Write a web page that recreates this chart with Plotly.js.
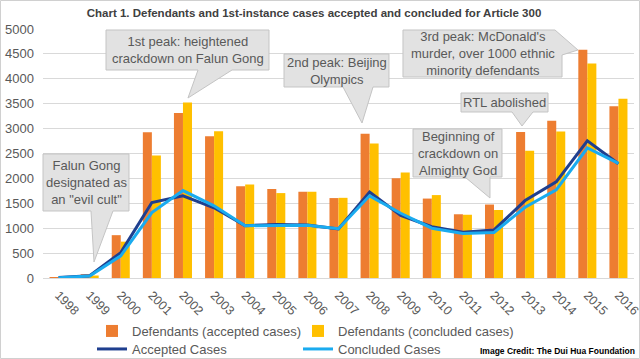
<!DOCTYPE html>
<html>
<head>
<meta charset="utf-8">
<script src="https://cdn.plot.ly/plotly-3.0.1.min.js"></script>
<style>html,body{margin:0;padding:0;background:#fff;}#chart{width:640px;height:359px;}</style>
</head>
<body>
<div id="chart"></div>
<script>
// ---- Data ----
var years = ["1998","1999","2000","2001","2002","2003","2004","2005","2006","2007","2008","2009","2010","2011","2012","2013","2014","2015","2016"];
var defendantsAccepted  = [20, 75, 860, 2925, 3315, 2845, 1840, 1785, 1730, 1605, 2895, 2005, 1595, 1280, 1475, 2930, 3160, 4585, 3450];
var defendantsConcluded = [5, 50, 730, 2460, 3525, 2945, 1875, 1705, 1730, 1610, 2700, 2120, 1665, 1270, 1365, 2555, 2940, 4305, 3600];
var acceptedCases       = [10, 45, 510, 1515, 1650, 1410, 1050, 1075, 1065, 985, 1725, 1255, 1030, 920, 965, 1555, 1930, 2755, 2295];
var concludedCases      = [5, 40, 445, 1315, 1755, 1450, 1050, 1060, 1060, 990, 1650, 1300, 1000, 895, 915, 1420, 1770, 2610, 2300];
var yTicks = [0,500,1000,1500,2000,2500,3000,3500,4000,4500,5000];

var titleText = "Chart 1. Defendants and 1st-instance cases accepted and concluded for Article 300";
var seriesNames = ["Defendants (accepted cases)", "Defendants (concluded cases)", "Accepted Cases", "Concluded Cases"];
var calloutTexts = [
  "Falun Gong<br>designated as<br>an \"evil cult\"",
  "1st peak: heightened<br>crackdown on Falun Gong",
  "2nd peak: Beijing<br>Olympics",
  "3rd peak: McDonald's<br>murder, over 1000 ethnic<br>minority defendants",
  "RTL abolished",
  "Beginning of<br>crackdown on<br>Almighty God"
];
var creditText = "Image Credit: The Dui Hua Foundation";

// ---- Layout helpers (pixel -> paper / container) ----
var W = 640, H = 359, ML = 43, MR = 6, MT = 29, MB = 81;
function px(x){ return (x - ML) / (W - ML - MR); }
function py(y){ return (H - MB - y) / (H - MT - MB); }
function cx(x){ return x / W; }
function cy(y){ return 1 - y / H; }
function path(pts){
  return pts.map(function(p,i){ return (i ? "L" : "M") + px(p[0]).toFixed(4) + "," + py(p[1]).toFixed(4); }).join(" ") + " Z";
}

// callout outlines in pixels (box + pointer)
var callouts = [
  {pts: [[43,154],[129,154],[129,211],[113,211],[94,262],[91,211],[43,211]], cx: 86, cy: 183},
  {pts: [[106,30],[269,30],[269,70],[232,70],[188,98],[198,70],[106,70]], cx: 187.5, cy: 50},
  {pts: [[284,54],[389,54],[389,87],[373,87],[362,123],[343,87],[284,87]], cx: 336.5, cy: 70.5},
  {pts: [[403,30],[555,30],[578,50],[562,55],[562,77],[403,77]], cx: 482.5, cy: 53.5},
  {pts: [[461,93],[548,93],[548,112],[533,112],[522,126],[512,112],[461,112]], cx: 504.5, cy: 102.5},
  {pts: [[413,129],[502,129],[502,177],[490,177],[490,198],[465,177],[413,177]], cx: 457.5, cy: 153}
];

var shapes = [{
  type: "rect", xref: "paper", yref: "paper",
  x0: px(0.5), x1: px(639.5), y0: py(358.5), y1: py(0.5),
  line: {color: "#d0d0d0", width: 1}, fillcolor: "rgba(0,0,0,0)", layer: "below"
}];
var annotations = [];
callouts.forEach(function(c, i){
  shapes.push({type: "path", xref: "paper", yref: "paper", path: path(c.pts),
    fillcolor: "#E2E2E2", line: {color: "#C4C4C4", width: 1}, layer: "above"});
  annotations.push({xref: "paper", yref: "paper", x: px(c.cx), y: py(c.cy),
    xanchor: "center", yanchor: "middle", showarrow: false, text: calloutTexts[i],
    font: {family: "Liberation Sans, Arial, sans-serif", size: 13, color: "#595959"}, align: "center"});
});
annotations.push({xref: "paper", yref: "paper", x: px(637), y: py(351), xanchor: "right", yanchor: "middle",
  showarrow: false, text: "<b>" + creditText + "</b>",
  font: {family: "Liberation Sans, Arial, sans-serif", size: 8.5, color: "#000"}});

var font = "Liberation Sans, Arial, sans-serif";
var traces = [
  {type: "bar", x: years, y: defendantsAccepted, name: seriesNames[0], marker: {color: "#ED7D31"}, legend: "legend"},
  {type: "bar", x: years, y: defendantsConcluded, name: seriesNames[1], marker: {color: "#FFC000"}, legend: "legend2"},
  {type: "scatter", mode: "lines", x: years, y: acceptedCases, name: seriesNames[2], line: {color: "#1F3F8F", width: 3}, legend: "legend3"},
  {type: "scatter", mode: "lines", x: years, y: concludedCases, name: seriesNames[3], line: {color: "#1AABEF", width: 3}, legend: "legend4"}
];

var legendCommon = {orientation: "h", xanchor: "left", yanchor: "middle", xref: "container", yref: "container",
  font: {family: font, size: 13, color: "#595959"}, bgcolor: "rgba(0,0,0,0)", itemwidth: 30};

var layout = {
  width: W, height: H,
  margin: {l: ML, r: MR, t: MT, b: MB, pad: 0, autoexpand: false},
  paper_bgcolor: "#fff", plot_bgcolor: "#fff",
  title: {text: "<b>" + titleText + "</b>", x: cx(314), xref: "container", xanchor: "center", y: cy(13), yref: "container", yanchor: "middle",
    font: {family: font, size: 11.5, color: "#404040"}},
  barmode: "group", bargap: 0.42, bargroupgap: 0,
  xaxis: {type: "category", tickangle: 45, tickfont: {family: font, size: 12.5, color: "#595959"},
    showgrid: false, showline: true, linecolor: "#d9d9d9", ticks: "", ticklabelstandoff: 4, fixedrange: true},
  yaxis: {range: [0, 5000], tickvals: yTicks, tickfont: {family: font, size: 13, color: "#595959"},
    showgrid: true, gridcolor: "#d9d9d9", zeroline: false, ticks: "", ticklabelstandoff: 8, showline: false},
  showlegend: true,
  legend:  Object.assign({}, legendCommon, {x: cx(92),  y: cy(331)}),
  legend2: Object.assign({}, legendCommon, {x: cx(298), y: cy(331)}),
  legend3: Object.assign({}, legendCommon, {x: cx(92),  y: cy(349)}),
  legend4: Object.assign({}, legendCommon, {x: cx(298), y: cy(349)}),
  shapes: shapes,
  annotations: annotations
};

Plotly.newPlot("chart", traces, layout, {displayModeBar: false, staticPlot: true});
</script>
</body>
</html>
